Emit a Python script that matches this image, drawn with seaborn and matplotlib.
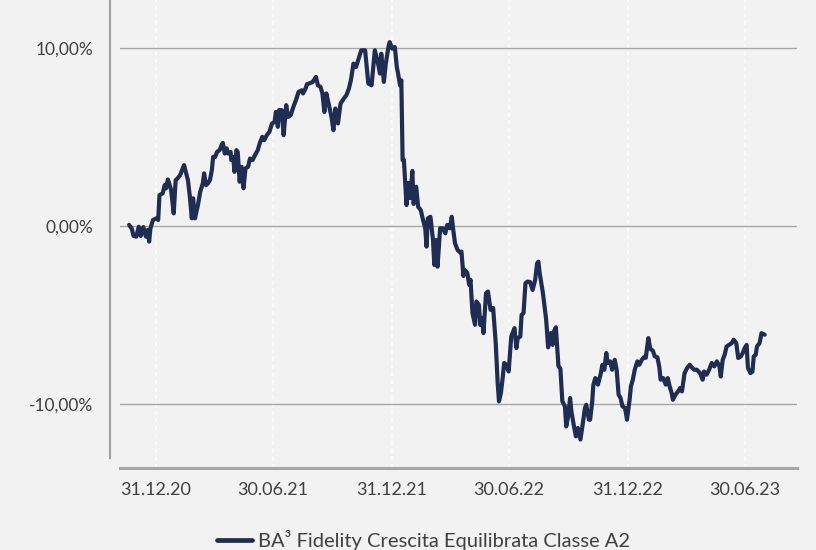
import pandas as pd
import matplotlib.pyplot as plt
import matplotlib.dates as mdates
from matplotlib.ticker import FuncFormatter
import seaborn as sns

# cumulative performance (%)
dates = [
    '2020-11-20', '2020-11-24', '2020-11-27', '2020-12-01', '2020-12-05', '2020-12-08', '2020-12-12',
    '2020-12-16', '2020-12-19', '2020-12-21', '2020-12-23', '2020-12-27', '2021-01-01', '2021-01-04',
    '2021-01-06', '2021-01-11', '2021-01-14', '2021-01-16', '2021-01-19', '2021-01-21', '2021-01-24',
    '2021-01-28', '2021-01-31', '2021-02-03', '2021-02-07', '2021-02-13', '2021-02-19', '2021-02-22',
    '2021-02-25', '2021-02-27', '2021-03-02', '2021-03-07', '2021-03-10', '2021-03-14', '2021-03-16',
    '2021-03-19', '2021-03-22', '2021-03-25', '2021-03-28', '2021-03-30', '2021-04-02', '2021-04-05',
    '2021-04-09', '2021-04-12', '2021-04-14', '2021-04-17', '2021-04-20', '2021-04-22', '2021-04-26',
    '2021-04-27', '2021-04-30', '2021-05-02', '2021-05-05', '2021-05-07', '2021-05-10', '2021-05-13',
    '2021-05-16', '2021-05-19', '2021-05-23', '2021-05-26', '2021-05-30', '2021-06-04', '2021-06-07',
    '2021-06-10', '2021-06-14', '2021-06-17', '2021-06-21', '2021-06-25', '2021-06-29', '2021-07-03',
    '2021-07-05', '2021-07-08', '2021-07-10', '2021-07-14', '2021-07-17', '2021-07-21', '2021-07-24',
    '2021-07-28', '2021-08-01', '2021-08-05', '2021-08-09', '2021-08-14', '2021-08-16', '2021-08-20',
    '2021-08-22', '2021-08-26', '2021-08-31', '2021-09-05', '2021-09-08', '2021-09-12', '2021-09-15',
    '2021-09-18', '2021-09-21', '2021-09-24', '2021-09-29', '2021-10-02', '2021-10-05', '2021-10-09',
    '2021-10-13', '2021-10-18', '2021-10-22', '2021-10-26', '2021-10-29', '2021-11-02', '2021-11-06',
    '2021-11-10', '2021-11-14', '2021-11-20', '2021-11-25', '2021-11-30', '2021-12-05', '2021-12-09',
    '2021-12-13', '2021-12-15', '2021-12-19', '2021-12-22', '2021-12-26', '2021-12-28', '2022-01-01',
    '2022-01-05', '2022-01-08', '2022-01-10', '2022-01-13', '2022-01-15', '2022-01-17', '2022-01-19',
    '2022-01-23', '2022-01-26', '2022-01-29', '2022-02-01', '2022-02-03', '2022-02-07', '2022-02-10',
    '2022-02-14', '2022-02-17', '2022-02-21', '2022-02-23', '2022-02-25', '2022-03-01', '2022-03-05',
    '2022-03-07', '2022-03-10', '2022-03-12', '2022-03-16', '2022-03-20', '2022-03-24', '2022-03-27',
    '2022-03-31', '2022-04-03', '2022-04-05', '2022-04-08', '2022-04-12', '2022-04-16', '2022-04-18',
    '2022-04-21', '2022-04-23', '2022-04-27', '2022-04-30', '2022-05-02', '2022-05-05', '2022-05-09',
    '2022-05-11', '2022-05-15', '2022-05-17', '2022-05-20', '2022-05-22', '2022-05-26', '2022-05-29',
    '2022-06-02', '2022-06-06', '2022-06-10', '2022-06-13', '2022-06-15', '2022-06-18', '2022-06-21',
    '2022-06-23', '2022-06-26', '2022-06-30', '2022-07-04', '2022-07-06', '2022-07-09', '2022-07-12',
    '2022-07-14', '2022-07-18', '2022-07-20', '2022-07-23', '2022-07-26', '2022-07-29', '2022-08-02',
    '2022-08-06', '2022-08-10', '2022-08-13', '2022-08-15', '2022-08-17', '2022-08-22', '2022-08-27',
    '2022-08-30', '2022-09-03', '2022-09-06', '2022-09-08', '2022-09-11', '2022-09-15', '2022-09-18',
    '2022-09-21', '2022-09-25', '2022-09-27', '2022-09-30', '2022-10-03', '2022-10-05', '2022-10-09',
    '2022-10-12', '2022-10-15', '2022-10-19', '2022-10-22', '2022-10-26', '2022-10-28', '2022-11-01',
    '2022-11-03', '2022-11-06', '2022-11-08', '2022-11-11', '2022-11-15', '2022-11-19', '2022-11-22',
    '2022-11-25', '2022-11-28', '2022-11-30', '2022-12-04', '2022-12-07', '2022-12-11', '2022-12-14',
    '2022-12-17', '2022-12-20', '2022-12-23', '2022-12-27', '2022-12-30', '2023-01-03', '2023-01-05',
    '2023-01-08', '2023-01-11', '2023-01-15', '2023-01-18', '2023-01-22', '2023-01-25', '2023-01-28',
    '2023-02-01', '2023-02-04', '2023-02-08', '2023-02-11', '2023-02-15', '2023-02-18', '2023-02-20',
    '2023-02-24', '2023-02-28', '2023-03-03', '2023-03-06', '2023-03-09', '2023-03-11', '2023-03-15',
    '2023-03-19', '2023-03-22', '2023-03-25', '2023-03-29', '2023-04-02', '2023-04-06', '2023-04-10',
    '2023-04-13', '2023-04-17', '2023-04-22', '2023-04-26', '2023-04-28', '2023-05-02', '2023-05-06',
    '2023-05-10', '2023-05-14', '2023-05-18', '2023-05-22', '2023-05-24', '2023-05-27', '2023-05-30',
    '2023-06-02', '2023-06-06', '2023-06-10', '2023-06-13', '2023-06-17', '2023-06-20', '2023-06-24',
    '2023-06-27', '2023-06-30', '2023-07-03', '2023-07-05', '2023-07-09', '2023-07-12', '2023-07-14',
    '2023-07-17', '2023-07-19', '2023-07-23', '2023-07-26', '2023-07-31',
]
perf = [
    0.06, -0.13, -0.56, -0.60, -0.04, -0.56, -0.06,
    -0.60, -0.22, -0.88, -0.13, 0.34, 0.43, 0.34,
    1.74, 1.84, 2.30, 2.12, 2.62, 2.40, 2.02,
    0.71, 2.58, 2.68, 2.87, 3.43, 2.58, 1.65,
    0.43, 1.56, 0.43, 1.28, 1.93, 2.40, 2.96,
    2.30, 2.40, 2.58, 3.15, 3.89, 3.88, 4.17,
    4.27, 4.55, 4.68, 4.08, 4.37, 4.08, 4.17,
    3.71, 3.88, 3.05, 4.27, 4.17, 2.49, 3.33,
    2.12, 3.24, 3.33, 3.80, 3.71, 4.08, 4.27,
    4.65, 5.02, 4.83, 5.11, 5.30, 5.77, 5.86,
    6.42, 5.58, 6.52, 6.52, 5.11, 6.80, 6.14,
    6.24, 6.70, 7.08, 7.54, 7.64, 7.46, 7.74,
    7.98, 8.03, 8.11, 8.39, 7.92, 7.83, 7.46,
    6.42, 7.46, 6.98, 6.14, 5.39, 6.61, 5.77,
    6.89, 7.17, 7.36, 7.74, 8.20, 9.14, 8.95,
    9.42, 9.89, 9.89, 8.02, 7.92, 9.89, 9.33,
    8.58, 9.70, 8.11, 9.14, 10.07, 10.35, 9.98,
    10.07, 8.95, 8.58, 7.92, 8.20, 3.71, 3.71,
    1.18, 2.42, 1.57, 3.10, 1.24, 2.21, 1.08,
    0.90, 0.43, -0.13, -1.16, 0.43, 0.52, -0.79,
    -2.19, -0.79, -2.29, -0.13, -0.13, -0.41, 0.06,
    -0.13, 0.52, -0.13, -0.97, -1.35, -1.49, -1.44,
    -2.81, -2.47, -2.64, -3.31, -3.03, -4.90, -5.56,
    -4.25, -4.44, -5.56, -5.19, -6.03, -3.78, -3.69,
    -4.72, -4.62, -6.59, -8.84, -9.87, -9.40, -8.47,
    -7.71, -7.81, -8.19, -6.22, -6.03, -5.75, -6.87,
    -6.31, -6.22, -5.00, -4.90, -3.22, -3.13, -3.15,
    -3.60, -3.03, -2.10, -2.01, -2.66, -3.78, -5.28,
    -6.83, -6.03, -6.69, -5.94, -5.70, -7.89, -8.03,
    -9.87, -10.15, -11.28, -10.71, -9.68, -10.43, -11.28,
    -11.84, -11.37, -12.02, -11.28, -10.24, -10.06, -10.90,
    -10.90, -9.96, -8.93, -8.56, -8.93, -8.37, -7.81,
    -8.09, -7.15, -7.71, -7.62, -8.09, -7.53, -8.09,
    -9.49, -9.68, -10.15, -10.24, -10.90, -9.78, -9.03,
    -8.65, -8.09, -7.62, -7.81, -7.53, -7.39, -7.42,
    -6.31, -6.91, -7.02, -7.34, -7.39, -7.95, -8.65,
    -8.56, -8.93, -8.56, -9.03, -9.40, -9.78, -9.49,
    -9.31, -9.12, -9.31, -8.28, -7.99, -7.81, -7.99,
    -8.09, -8.09, -8.28, -8.65, -8.19, -8.37, -8.09,
    -7.71, -7.90, -7.62, -7.90, -8.47, -7.53, -7.25,
    -6.78, -6.69, -6.59, -6.40, -6.59, -7.43, -7.34,
    -7.15, -6.87, -6.69, -7.99, -8.28, -8.19, -7.34,
    -7.25, -6.78, -6.59, -6.03, -6.12,
]
series_name = 'BA³ Fidelity Crescita Equilibrata Classe A2'
tick_dates = ['2020-12-31', '2021-06-30', '2021-12-31', '2022-06-30', '2022-12-31', '2023-06-30']
y_ticks = [-10, 0, 10]

df = pd.DataFrame({'date': pd.to_datetime(dates), 'perf': perf})

sns.set_theme(style='white')
plt.rcParams['font.family'] = ['Lato', 'DejaVu Sans']

bg = '#F2F2F2'
fig = plt.figure(figsize=(8.16, 5.5), dpi=100, facecolor=bg)
ax = fig.add_axes([0.1471, 0.1491, 0.8297, 0.8509])
ax.set_facecolor(bg)

sns.lineplot(data=df, x='date', y='perf', ax=ax, color='#1F2D52',
             linewidth=3.0, label=series_name, legend=False)

ax.set_xlim(pd.Timestamp('2020-11-06'), pd.Timestamp('2023-09-19'))
ax.set_ylim(-13.62, 12.72)

ax.set_xticks(pd.to_datetime(tick_dates))
ax.xaxis.set_major_formatter(mdates.DateFormatter('%d.%m.%y'))
ax.set_yticks(y_ticks)
ax.yaxis.set_major_formatter(FuncFormatter(lambda v, p: f'{v:.2f}%'.replace('.', ',')))

ax.grid(axis='y', color='#A6A6A6', linewidth=1.0)
ax.grid(axis='x', color='white', linewidth=1.1, linestyle=(0, (2.5, 2.5)))
ax.set_axisbelow(True)

ax.tick_params(axis='both', length=0, labelcolor='#404040')
ax.tick_params(axis='y', labelsize=12.5, pad=12)
ax.tick_params(axis='x', labelsize=13, pad=10)
ax.set_xlabel('')
ax.set_ylabel('')

for s in ['top', 'right']:
    ax.spines[s].set_visible(False)
ax.spines['bottom'].set_color('#A6A6A6')
ax.spines['bottom'].set_linewidth(2.2)
ax.spines['left'].set_color('#A0A0A0')
ax.spines['left'].set_linewidth(1.5)
ax.spines['left'].set_position(('outward', 7.2))
ax.spines['left'].set_bounds(-13.06, 12.72)

handles, labels = ax.get_legend_handles_labels()
leg = fig.legend(handles, labels, loc='center', bbox_to_anchor=(0.519, 0.018),
                 frameon=False, fontsize=14.5, handlelength=1.75, handletextpad=0.3,
                 labelcolor='#404040')
for h in leg.get_lines():
    h.set_linewidth(3.4)

fig.savefig('out.png', dpi=100, facecolor=bg)
